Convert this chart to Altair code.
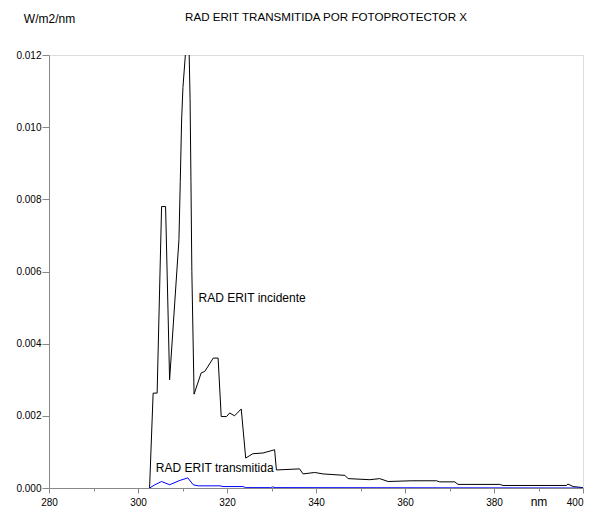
import altair as alt
import pandas as pd

# --- data ---
inc_nm = [302.6, 303.4, 304.3, 305.3, 306.2, 307.1, 309.2, 309.5, 309.8, 310.1,
          311.0, 311.5, 311.7, 311.9, 312.1, 312.6, 314.2, 315.0, 316.9, 318.0,
          318.7, 319.9, 320.6, 321.7, 323.2, 324.2, 325.8, 328.1, 330.7, 331.1,
          336.3, 337.1, 339.7, 341.6, 346.5, 347.2, 352.1, 354.3, 356.2, 361.4,
          367.1, 367.8, 371.2, 371.9, 381.3, 382.0, 396.3, 396.6, 397.8, 400.0]
inc_val = [0.0, 0.00263, 0.00263, 0.0078, 0.0078, 0.0030, 0.00688, 0.00849, 0.0102, 0.0111,
           0.0126, 0.0120, 0.0108, 0.0085, 0.0060, 0.0026, 0.00319, 0.00323, 0.0036, 0.0036,
           0.00198, 0.00198, 0.00208, 0.0020, 0.00219, 0.00083, 0.00095, 0.00097, 0.00106, 0.0005,
           0.00053, 0.00039, 0.00043, 0.00039, 0.00035, 0.00026, 0.00023, 0.00026, 0.00018, 0.0002,
           0.0002, 0.00017, 0.00017, 0.0001, 0.0001, 0.00007, 0.00007, 0.00011, 0.00004, 0.00001]

tr_nm = [302.6, 303.8, 305.3, 307.1, 309.4, 311.2, 312.4, 313.5, 318.4, 319.1,
         323.6, 324.2, 329.8, 330.3, 330.8, 400.0]
tr_val = [0.0, 0.00009, 0.00018, 0.00009, 0.00021, 0.00028, 0.00009, 0.00006, 0.00006, 0.00004,
          0.00004, 0.00001, 0.00001, 0.00003, 0.00001, 0.0]

series_names = ["incidente", "transmitida"]
series_colors = ["#000000", "#0000ff"]

label_nm = [313.6, 304.0]
label_val = [0.00527, 0.00056]
label_text = ["RAD ERIT incidente", "RAD ERIT transmitida"]

x_ticks = [280, 290, 300, 310, 320, 330, 340, 350, 360, 370, 380, 390, 400]
y_ticks = [0.0, 0.001, 0.002, 0.003, 0.004, 0.005, 0.006, 0.007, 0.008, 0.009, 0.010, 0.011, 0.012]

title_text = "RAD ERIT TRANSMITIDA POR FOTOPROTECTOR X"
y_title = "W/m2/nm"
x_title = "nm"

FONT = "Liberation Sans"

df = pd.concat([
    pd.DataFrame({"nm": inc_nm, "val": inc_val, "serie": series_names[0]}),
    pd.DataFrame({"nm": tr_nm, "val": tr_val, "serie": series_names[1]}),
], ignore_index=True)

labels = pd.DataFrame({"nm": label_nm, "val": label_val, "text": label_text})

x_scale = alt.Scale(domain=[280, 400], nice=False, zero=False)
y_scale = alt.Scale(domain=[0, 0.012], nice=False)

x_axis = alt.Axis(
    values=x_ticks,
    labelExpr="datum.value % 20 == 0 ? format(datum.value, 'd') : ''",
    tickSize={"condition": {"test": "datum.value % 20 == 0", "value": 5}, "value": 3},
    labelAlign={"condition": {"test": "datum.value >= 400", "value": "right"}, "value": "center"},
    labelPadding=4,
    labelFlush=False,
    labelOverlap=False,
    grid=False,
    title=x_title,
    titleX=489.5,
    titleY=13,
    titleAlign="center",
    titleBaseline="middle",
    titleFontWeight="normal",
    titleFontSize=12,
    titleFont=FONT,
    titleColor="black",
)

y_axis = alt.Axis(
    values=y_ticks,
    labelExpr="round(datum.value * 1000) % 2 == 0 ? format(datum.value, '.3f') : ''",
    tickSize={"condition": {"test": "round(datum.value * 1000) % 2 == 0", "value": 7}, "value": 3},
    labelPadding=1,
    labelFlush=False,
    labelOverlap=False,
    grid=False,
    title=y_title,
    titleAngle=0,
    titleX=0,
    titleY=-37,
    titleAlign="center",
    titleBaseline="middle",
    titleFontWeight="normal",
    titleFontSize=12,
    titleFont=FONT,
    titleColor="black",
)

lines = alt.Chart(df).mark_line(strokeWidth=1, clip=True).encode(
    x=alt.X("nm:Q", scale=x_scale, axis=x_axis),
    y=alt.Y("val:Q", scale=y_scale, axis=y_axis),
    color=alt.Color("serie:N",
                    scale=alt.Scale(domain=series_names, range=series_colors),
                    legend=None),
)

texts = alt.Chart(labels).mark_text(
    align="left", baseline="middle", fontSize=12, font=FONT, color="black"
).encode(
    x=alt.X("nm:Q", scale=x_scale),
    y=alt.Y("val:Q", scale=y_scale),
    text="text:N",
)

chart = alt.layer(lines, texts).properties(
    width=534,
    height=433,
    autosize="none",
    padding={"left": 41, "top": 47, "right": 2, "bottom": 22},
    title=alt.TitleParams(
        text=title_text, anchor="middle", dx=10, dy=16,
        fontSize=11.6, fontWeight="normal", font=FONT, color="black",
    ),
).configure_view(
    stroke="black", strokeWidth=1
).configure_axis(
    domainColor="black", tickColor="black", labelColor="black",
    labelFont=FONT, labelFontSize=12, domainWidth=1, tickWidth=1,
).configure(background="white")

chart.save("out.html", embed_options={"renderer": "svg", "actions": False})
